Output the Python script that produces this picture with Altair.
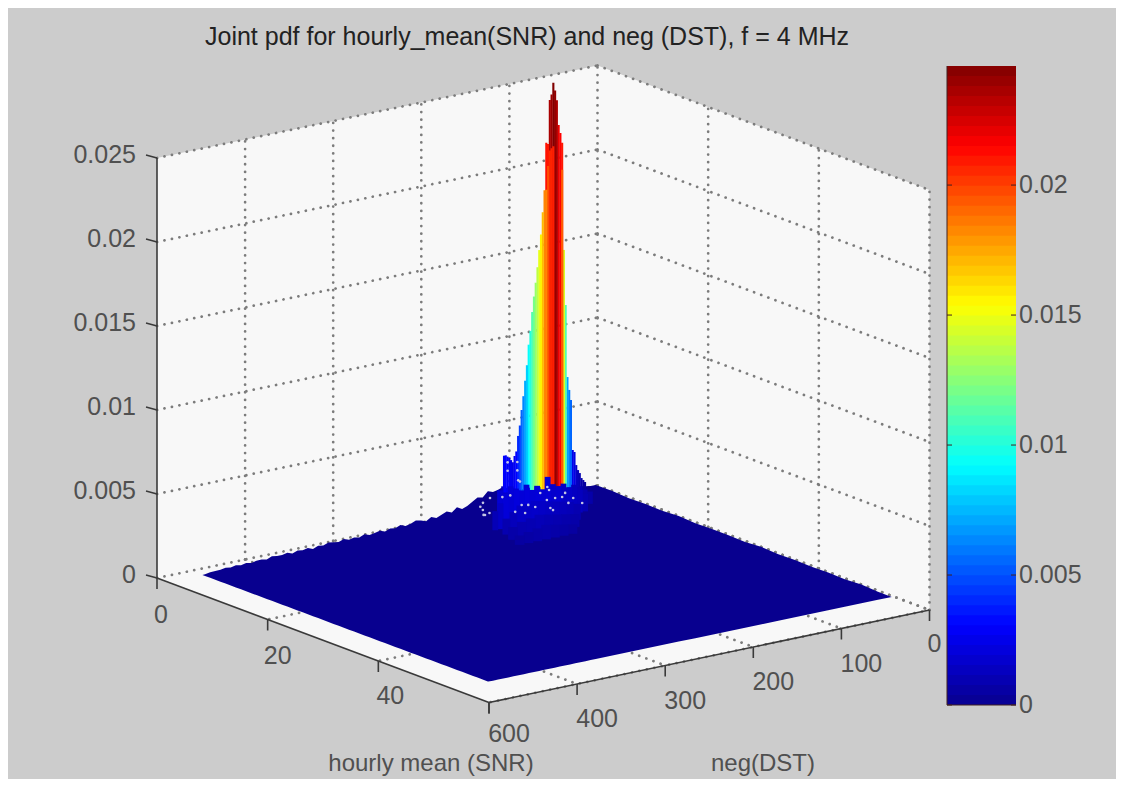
import numpy as np
import pandas as pd
import altair as alt

# ---------- values ----------
TITLE = "Joint pdf for hourly_mean(SNR) and neg (DST), f = 4 MHz"
snr_ticks = [0, 20, 40, 60]
dst_ticks = [0, 100, 200, 300, 400, 500]
pdf_ticks = [0, 0.005, 0.01, 0.015, 0.02, 0.025]
pdf_tick_labels = ["0", "0.005", "0.01", "0.015", "0.02", "0.025"]
cbar_ticks = [0, 0.005, 0.01, 0.015, 0.02]
cbar_labels = ["0", "0.005", "0.01", "0.015", "0.02"]
PDF_MAX = 0.02458

jet_colors = ["#08008f", "#0000ff", "#0080ff", "#00ffff", "#80ff80",
              "#ffff00", "#ff8000", "#ff0000", "#800000"]

# main ridge of the pdf (near SNR = 0.3)
ridge_dst = [16, 18, 20, 22, 24, 26, 28, 30, 32, 34, 36, 38, 40, 42, 44, 46, 48, 50, 52, 54, 56, 58, 60, 62,
             64, 66, 68, 70, 72, 74, 76, 78, 80, 82, 84, 86, 88, 90, 92, 94, 96, 98, 100, 102, 104, 106, 108, 110]
ridge_pdf = [.00042, .00056, .00070, .00102, .00122, .00154, .00234, .00248, .00548, .00610, .00689, .0112,
             .0145, .0209, .0215, .0220, .0235, .0241, .02458, .0239, .0236, .0210, .0211, .0183,
             .0170, .0157, .0148, .0138, .0129, .0121, .0112, .0101, .0093, .0081, .0072, .0063,
             .0055, .0046, .0040, .0031, .00285, .0025, .00265, .0028, .0029, .0030, .0030, .0012]
# lower neighbouring row in front of the ridge
front_dst = [42, 52, 54, 56, 58, 60]
front_pdf = [.0193, .0208, .0207, .0206, .0197, .0183]

# low noisy cells in front of the ridge, row by row in SNR
noise5_dst = [40, 46, 52, 58, 64, 70, 76, 82, 88, 94, 100, 106, 112, 118, 124, 130, 136, 142]
noise5_pdf = [.0007, .0009, .0011, .0013, .0012, .0015, .0013, .0016, .0021, .0014, .0017, .0015, .0019,
              .0016, .0018, .0020, .0017, .0019]
noise7_dst = [58, 64, 70, 76, 82, 88, 94, 100, 106, 112, 118, 124, 130, 136, 142, 148, 154, 160]
noise7_pdf = [.0010, .0013, .0014, .0016, .0015, .0018, .0017, .0019, .0018, .0020, .0019, .0021, .0020,
              .0021, .0019, .0020, .0015, .0011]
noise9_dst = [80, 88, 96, 104, 112, 120, 128, 136, 144, 152, 160]
noise9_pdf = [.0009, .0011, .0012, .0013, .0014, .0015, .0016, .0015, .0015, .0012, .0009]
noise11_dst = [95, 105, 115, 125, 135, 145, 155, 165]
noise11_pdf = [.0007, .0008, .0009, .0010, .0011, .0010, .0009, .0007]
noise13_dst = [110, 120, 130, 140, 150, 160, 170]
noise13_pdf = [.0005, .0006, .0007, .0008, .0007, .0006, .0005]

# jagged rear-left edge of the surface, pdf in units of 1e-5, every 6 neg(DST) from 2 to 458
edge_pdf_e5 = [6, 6, 12, 18, 18, 24, 30, 30, 36, 42, 48, 54, 60, 66, 78, 84, 96, 102, 120, 108, 102, 114, 84,
               90, 72, 54, 42, 60, 36, 48, 36, 24, 36, 18, 30, 36, 24, 18, 30, 18, 24, 12, 24, 18, 12, 24, 12,
               18, 12, 24, 12, 18, 24, 12, 18, 6, 18, 12, 18, 6, 18, 12, 12, 18, 6, 12, 12, 6, 12, 6, 12, 6,
               12, 6, 6, 6, 0]
# rear-right edge of the surface, every 3 SNR
back_pdf_e5 = [6, 0, 3, 0, 6, 0, 3, 3, 0, 6, 0, 3, 0, 3, 0, 6, 0, 3, 0]

# holes in the surface: SNR, neg(DST), pdf
hole_snr = [.14, 0, 0, 0, 0, 1.7, 2.8, 1.1, 1.5, 2.6, 1.2, 3.9, 1.1, 1.25, .2, 2.3, 4.4, 3.5, 4.7, 0, 0, 0,
            0, 0, 0, 0, 0, 0, 1.5, 3.8, 0, 1.8]
hole_dst = [131, 133, 122, 108, 99, 140, 111, 93, 88, 87, 65, 78, 55, 48, 38, 42, 45, 55, 80, 65, 57, 55,
            102, 102, 91, 91, 90, 88, 132, 106, 130, 139]
hole_pdf = [0, .0002, .0006, .0005, .0005, 0, 0, 0, 0, 0, 0, 0, 0, 0, 0, 0, 0, 0, 0, .00027, .00054, .00034,
            .0025, .0020, .0024, .0019, .0013, .0012, 0, 0, .0004, 0]

# ---------- 3-D box seen in the picture ----------
BACK = np.array([597.5, 485.5])
S_VEC = np.array([332.0, 124.5]) / 60.0
D_VEC = np.array([-440.5, 92.5]) / 500.0
Z_PX = 420.0 / 0.025


def px(s, d, z=0.0):
    s, d, z = np.asarray(s, float), np.asarray(d, float), np.asarray(z, float)
    return BACK[0] + S_VEC[0] * s + D_VEC[0] * d, BACK[1] + S_VEC[1] * s + D_VEC[1] * d - Z_PX * z


def segment(a, b):
    x, y = px(*a)
    x2, y2 = px(*b)
    return {"x": float(x), "y": float(y), "x2": float(x2), "y2": float(y2)}


# ---------- scales ----------
XS = alt.Scale(domain=[8, 1116], nice=False, zero=False)
YS = alt.Scale(domain=[779, 8], nice=False, zero=False)
jet_domain = [PDF_MAX * i / 8 for i in range(9)]
CS = alt.Scale(domain=jet_domain, range=jet_colors, interpolate="rgb", clamp=True)
X = alt.X("x:Q", scale=XS, axis=None)
Y = alt.Y("y:Q", scale=YS, axis=None)
X2 = alt.X2("x2:Q")
Y2 = alt.Y2("y2:Q")
COLOR = alt.Color("pdf:Q", scale=CS, legend=None)

# ---------- walls ----------
smax, dmax, zmax = 60, 500, 0.025
top = [px(0, dmax, zmax), px(0, 0, zmax), px(smax, 0, zmax)]
low = [px(0, dmax), px(smax, dmax), px(smax, 0)]
box_x = sorted(float(p[0]) for p in top + low)
box_df = pd.DataFrame({
    "x": box_x,
    "y": np.interp(box_x, [float(p[0]) for p in top], [float(p[1]) for p in top]),
    "y2": np.interp(box_x, [float(p[0]) for p in low], [float(p[1]) for p in low]),
})
box = alt.Chart(box_df).mark_area(color="#f8f8f8", opacity=1).encode(x=X, y=Y, y2=Y2)

# ---------- dotted grid ----------
grid_rows = []
for z in pdf_ticks:
    grid_rows.append(segment((0, dmax, z), (0, 0, z)))
    grid_rows.append(segment((0, 0, z), (smax, 0, z)))
for d in dst_ticks[:-1]:
    grid_rows.append(segment((0, d, 0), (0, d, zmax)))
    grid_rows.append(segment((0, d, 0), (smax, d, 0)))
for s in snr_ticks[1:]:
    grid_rows.append(segment((s, 0, 0), (s, 0, zmax)))
    grid_rows.append(segment((s, 0, 0), (s, dmax, 0)))
grid = alt.Chart(pd.DataFrame(grid_rows)).mark_rule(
    color="#7c7c7c", strokeWidth=2.7, strokeDash=[0.1, 7.5], strokeCap="round").encode(x=X, x2=X2, y=Y, y2=Y2)

# ---------- solid axes and ticks ----------
axis_rows = [segment((0, dmax, 0), (0, dmax, zmax)),
             segment((0, dmax, 0), (smax, dmax, 0)),
             segment((smax, dmax, 0), (smax, 0, 0))]
TICK = 11
for z in pdf_ticks:
    a, b = px(0, dmax, z)
    axis_rows.append({"x": float(a), "y": float(b), "x2": float(a) - TICK, "y2": float(b) - 3})
for s in snr_ticks:
    a, b = px(s, dmax, 0)
    axis_rows.append({"x": float(a), "y": float(b), "x2": float(a), "y2": float(b) + TICK})
for d in dst_ticks:
    a, b = px(smax, d, 0)
    axis_rows.append({"x": float(a), "y": float(b), "x2": float(a), "y2": float(b) + TICK})
axes = alt.Chart(pd.DataFrame(axis_rows)).mark_rule(color="#3a3a3a", strokeWidth=1.6).encode(
    x=X, x2=X2, y=Y, y2=Y2)

# ---------- floor of the surface ----------
edge_dst = np.arange(2, 460, 6)
edge_snr = edge_dst / 230.0
ex, ey = px(edge_snr, edge_dst, np.array(edge_pdf_e5) * 1e-5)
back_snr = np.array(list(range(3, 54, 3)) + [53.5, 53.5])[:len(back_pdf_e5)]
bx, by = px(back_snr, 2, np.array(back_pdf_e5) * 1e-5)
lx, ly = px(2, 461)
rx, ry = px(53.5, 2)
fx, fy = px(53.5, 460)
top_x = np.concatenate([[float(lx)], ex[::-1], bx, [float(rx)]])
top_y = np.concatenate([[float(ly)], ey[::-1], by, [float(ry)]])
order = np.argsort(top_x)
top_x, top_y = top_x[order], top_y[order]
floor_x = np.unique(np.concatenate([top_x, [float(fx)]]))
floor_df = pd.DataFrame({
    "x": floor_x,
    "y": np.interp(floor_x, top_x, top_y),
    "y2": np.interp(floor_x, [float(lx), float(fx), float(rx)], [float(ly), float(fy), float(ry)]),
})
floor = alt.Chart(floor_df).mark_area(color=jet_colors[0], opacity=1).encode(x=X, y=Y, y2=Y2)


# ---------- columns of the surface ----------
def columns(snr, dst, pdf, half):
    dst, pdf = np.array(dst, float), np.array(pdf, float)
    x1, y_low = px(snr, dst + half)
    x2, _ = px(snr, dst - half)
    _, y_top = px(snr, dst, pdf)
    return pd.DataFrame({"x": x1, "x2": x2, "y": y_top, "y2": y_low, "pdf": pdf})


col_df = pd.concat([
    columns(0.3, ridge_dst, ridge_pdf, 1.2),
    columns(0.3, front_dst, front_pdf, 1.2),
    columns(5, noise5_dst, noise5_pdf, 3.3),
    columns(7, noise7_dst, noise7_pdf, 3.3),
    columns(9, noise9_dst, noise9_pdf, 4.4),
    columns(11, noise11_dst, noise11_pdf, 5.5),
    columns(13, noise13_dst, noise13_pdf, 5.5),
], ignore_index=True)
cols = alt.Chart(col_df).mark_rect().encode(x=X, x2=X2, y=Y, y2=Y2, color=COLOR)

hx, hy = px(hole_snr, hole_dst, hole_pdf)
holes = alt.Chart(pd.DataFrame({"x": hx, "y": hy})).mark_point(
    filled=True, shape="circle", size=7, color="#c4c4e4", opacity=1).encode(x=X, y=Y)

# ---------- colour bar ----------
CB_L, CB_R, CB_BOTTOM, CB_TOP = 947.0, 1016.0, 705.0, 66.0


def cb_y(v):
    return CB_BOTTOM - (CB_BOTTOM - CB_TOP) * np.asarray(v, float) / PDF_MAX


levels = np.linspace(0, PDF_MAX, 65)
cb_df = pd.DataFrame({
    "x": CB_L, "x2": CB_R,
    "y": cb_y(levels[1:][::-1]), "y2": CB_BOTTOM,
    "pdf": ((levels[1:] + levels[:-1]) / 2)[::-1],
})
cbar = alt.Chart(cb_df).mark_rect().encode(x=X, x2=X2, y=Y, y2=Y2, color=COLOR)
cb_tick_rows = []
for v in cbar_ticks:
    cb_tick_rows.append({"x": CB_L, "x2": CB_L + 5, "y": float(cb_y(v)), "y2": float(cb_y(v))})
    cb_tick_rows.append({"x": CB_R - 5, "x2": CB_R, "y": float(cb_y(v)), "y2": float(cb_y(v))})
cb_edges = [{"x": CB_L, "x2": CB_L, "y": CB_TOP, "y2": CB_BOTTOM},
            {"x": CB_L, "x2": CB_R, "y": CB_BOTTOM, "y2": CB_BOTTOM}]
cb_lines = alt.Chart(pd.DataFrame(cb_tick_rows + cb_edges)).mark_rule(
    color="#402020", strokeWidth=1).encode(x=X, x2=X2, y=Y, y2=Y2)

# ---------- text ----------
TEXT = alt.Text("t:N")
FONT = "Liberation Sans"
GREY = "#505050"


def text_layer(rows, align):
    return alt.Chart(pd.DataFrame(rows)).mark_text(
        font=FONT, fontSize=25, color=GREY, align=align, baseline="middle"
    ).encode(x=X, y=Y, text=TEXT)


z_rows = []
for v, t in zip(pdf_ticks, pdf_tick_labels):
    a, b = px(0, dmax, v)
    z_rows.append({"x": float(a) - 21, "y": float(b) - 3, "t": t})
snr_off = {0: (4, 37), 20: (10, 36), 40: (12, 35)}
mid_rows = []
for v in snr_ticks[:-1]:
    a, b = px(v, dmax, 0)
    mid_rows.append({"x": float(a) + snr_off[v][0], "y": float(b) + snr_off[v][1], "t": str(v)})
for v in dst_ticks[1:-1]:
    a, b = px(smax, v, 0)
    mid_rows.append({"x": float(a) + 20, "y": float(b) + 35, "t": str(v)})
a, b = px(smax, 0, 0)
mid_rows.append({"x": float(a) + 5, "y": float(b) + 34, "t": "0"})
a, b = px(smax, dmax, 0)
mid_rows.append({"x": float(a) + 20, "y": float(b) + 31, "t": "600"})
cb_rows = [{"x": CB_R + 3, "y": float(cb_y(v)), "t": t} for v, t in zip(cbar_ticks, cbar_labels)]

label_rows = [{"x": 431, "y": 764, "t": "hourly mean (SNR)"}, {"x": 763, "y": 764, "t": "neg(DST)"}]
axis_titles = alt.Chart(pd.DataFrame(label_rows)).mark_text(
    font=FONT, fontSize=24, color=GREY, align="center", baseline="middle"
).encode(x=X, y=Y, text=TEXT)

chart = alt.layer(
    box, grid, axes, floor, cols, holes, cbar, cb_lines,
    text_layer(z_rows, "right"), text_layer(mid_rows, "center"), text_layer(cb_rows, "left"),
    axis_titles,
).properties(
    width=1108, height=771,
    padding=0,
    autosize=alt.AutoSizeParams(type="none"),
    background="#cccccc",
    title=alt.TitleParams(TITLE, anchor="start", frame="group", dx=197, dy=46, fontSize=25, font=FONT,
                          fontWeight="normal", color="#222222"),
).configure_view(stroke=None)

chart.save("out.html", embed_options={"renderer": "svg", "actions": False})
